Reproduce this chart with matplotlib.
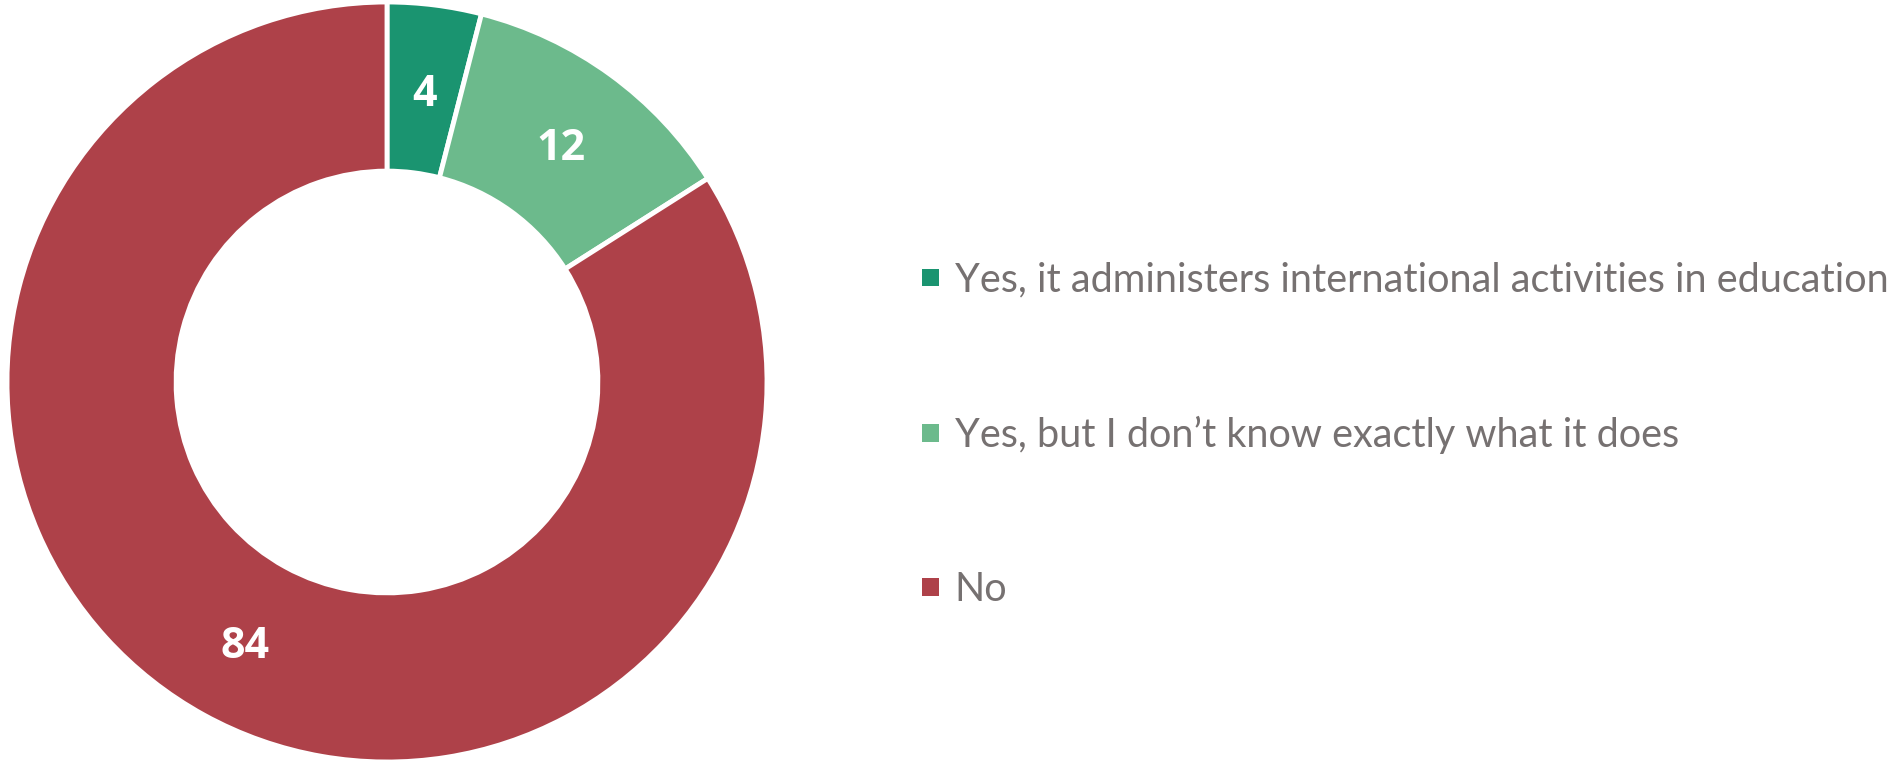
import matplotlib
matplotlib.use("Agg")
import matplotlib.pyplot as plt
import matplotlib.transforms as mtransforms
from matplotlib.patches import Patch

# ─── Survey answers ───────────────────────────────────────────────────────────
answers = ["Yes, it administers international activities in education",
           "Yes, but I don\u2019t know exactly what it does",
           "No"]
shares = [4, 12, 84]
colors = ["#1A9470", "#6CBA8C", "#AE4149"]

TEXT_GREY = "#767171"
W, H = 1895, 762

plt.rcParams['font.family'] = ['Lato', 'DejaVu Sans']

fig = plt.figure(figsize=(W / 100, H / 100), dpi=100)

# donut axes: centre (387, 382) px, outer radius 380 px
cx, cy, r = 387, 382, 380
ax = fig.add_axes([(cx - r) / W, (H - cy - r) / H, 2 * r / W, 2 * r / H])

ring = 0.445
wedges, _, autotexts = ax.pie(
    shares, colors=colors, startangle=90, counterclock=False, radius=1,
    autopct=lambda p: f"{p:.0f}", pctdistance=1 - ring / 2,
    wedgeprops=dict(width=ring, edgecolor="white", linewidth=3.5),
    textprops=dict(color="white", fontsize=31, fontweight="bold",
                   family=["Open Sans", "DejaVu Sans"]))
# nudge the value labels down a touch
shift = mtransforms.ScaledTranslation(0, -6 / 100, fig.dpi_scale_trans)
for t in autotexts:
    t.set_transform(t.get_transform() + shift)
ax.set_xlim(-1, 1)
ax.set_ylim(-1, 1)
ax.set_aspect("equal")

handles = [Patch(facecolor=c, edgecolor="none") for c in colors]
leg = fig.legend(handles, answers, loc="center left",
                 bbox_to_anchor=(922 / W, (H - 435) / H),
                 frameon=False, fontsize=28.5, labelcolor=TEXT_GREY,
                 handlelength=0.43, handleheight=0.3, handletextpad=0.4,
                 labelspacing=2.96, borderpad=0, borderaxespad=0)

fig.savefig("out.png", dpi=100)
